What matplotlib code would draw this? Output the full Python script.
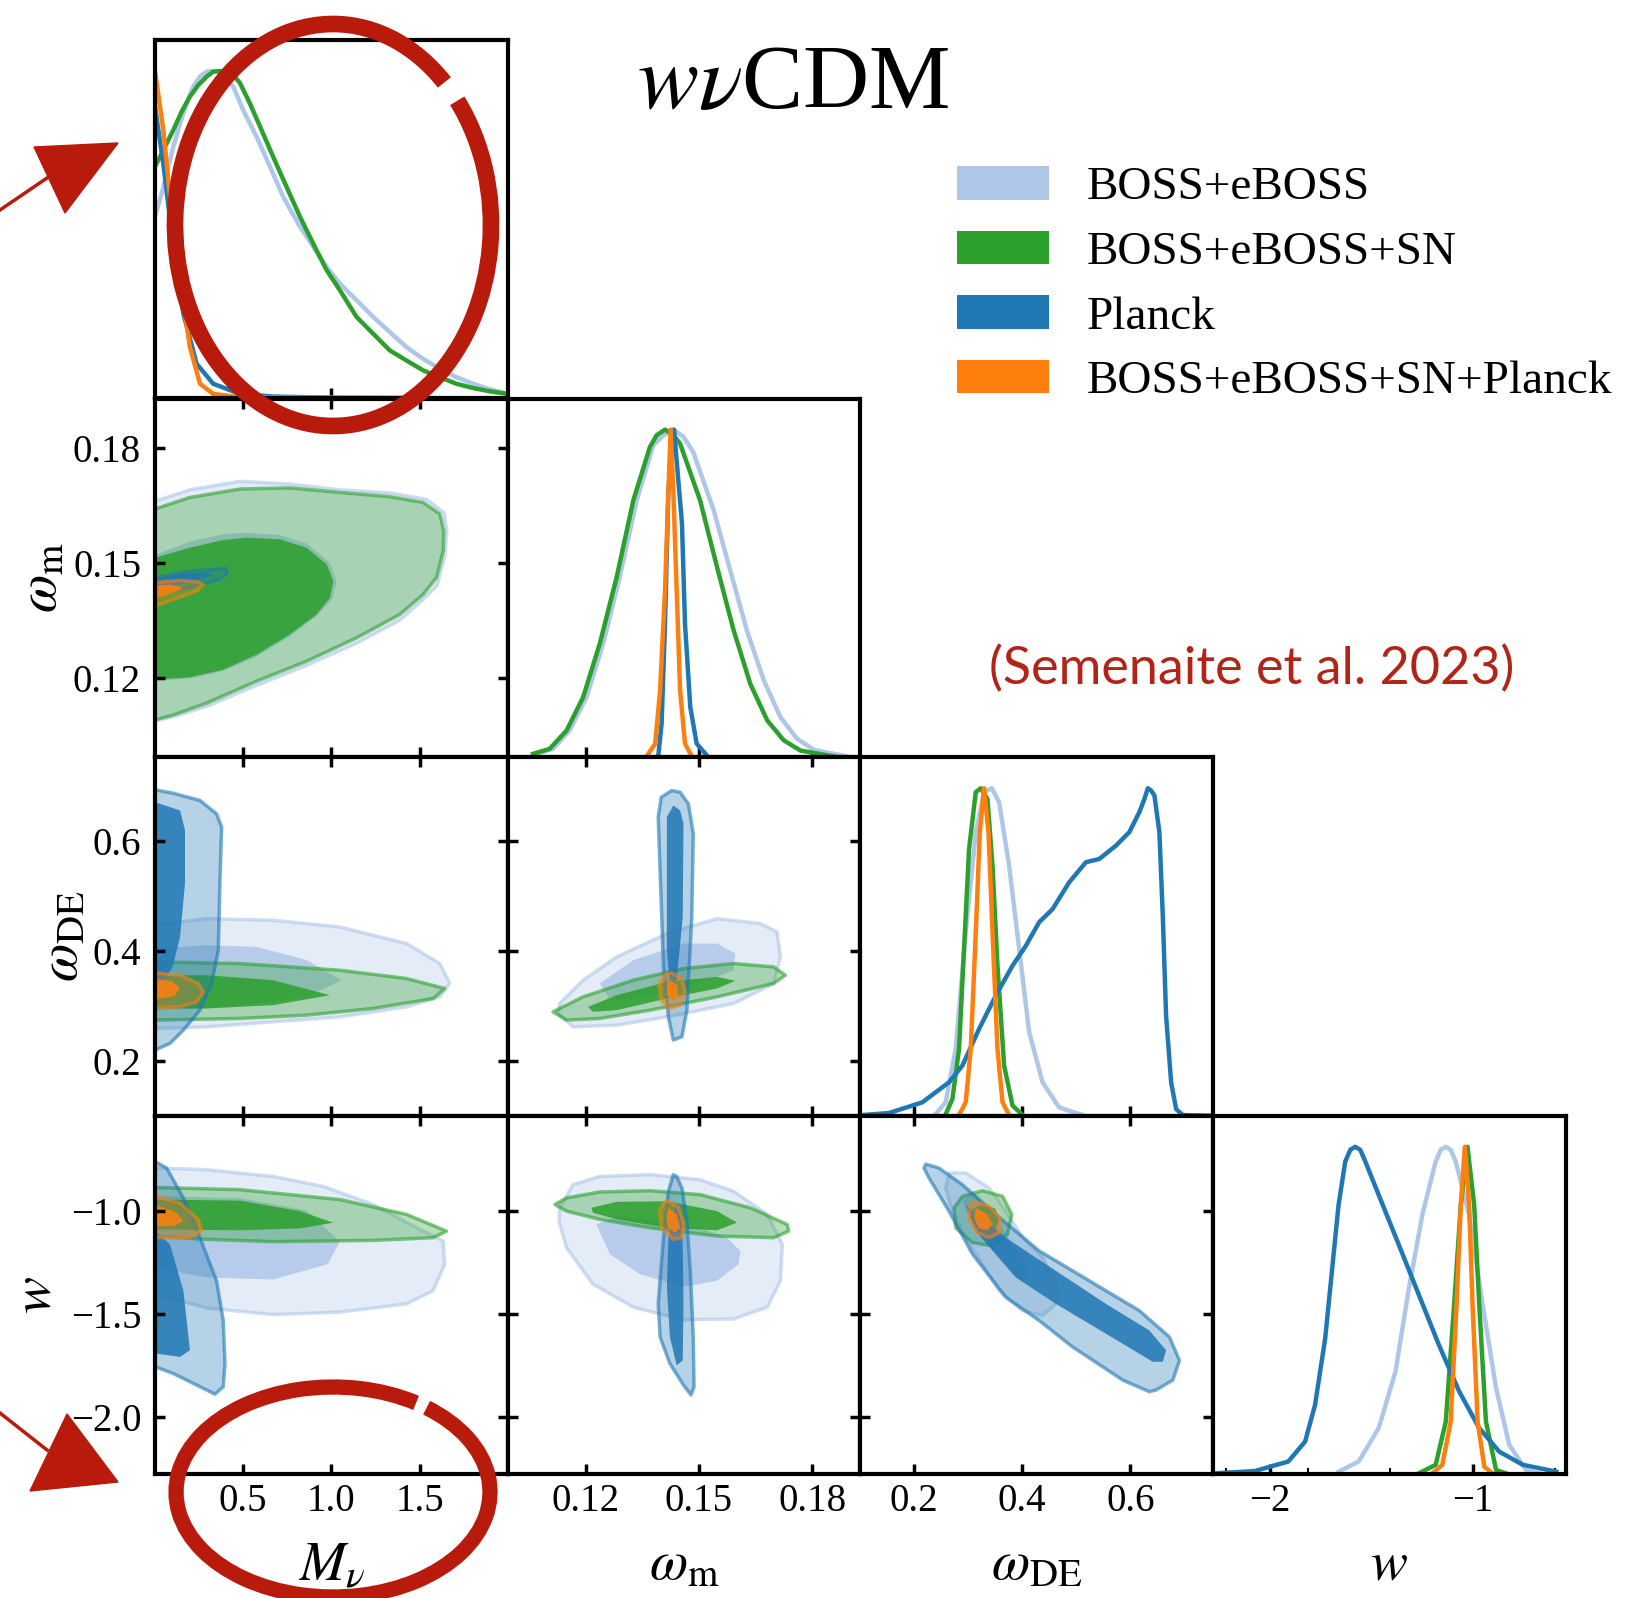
import numpy as np
import matplotlib
matplotlib.use("Agg")
import matplotlib.pyplot as plt
from matplotlib.patches import Polygon, Patch, Arc
from matplotlib.ticker import FixedLocator

plt.rcParams['font.family'] = ['Liberation Serif', 'DejaVu Serif']
plt.rcParams['mathtext.fontset'] = 'stix'

# ---------------- 1D marginals (peak normalised) ----------------
mnu_boss_x = [0.0, 0.038, 0.066, 0.104, 0.142, 0.179, 0.217, 0.255, 0.293, 0.321, 0.359, 0.406, 0.444, 0.500, 0.576, 0.652,
              0.727, 0.812, 0.897, 0.973, 1.048, 1.143, 1.237, 1.331, 1.426, 1.520, 1.615, 1.709, 1.804, 1.898, 2.0]
mnu_boss_p = [0.555, 0.626, 0.687, 0.769, 0.840, 0.901, 0.952, 0.983, 0.998, 1.0, 0.998, 0.973, 0.952, 0.881, 0.799, 0.708,
              0.616, 0.534, 0.463, 0.402, 0.351, 0.300, 0.249, 0.203, 0.157, 0.121, 0.091, 0.065, 0.045, 0.028, 0.014]
mnu_sn_x = [0.0, 0.057, 0.104, 0.151, 0.198, 0.245, 0.293, 0.330, 0.368, 0.406, 0.444, 0.482, 0.538, 0.604, 0.670, 0.746,
            0.822, 0.897, 0.973, 1.048, 1.143, 1.237, 1.331, 1.426, 1.520, 1.615, 1.709, 1.804, 1.898, 2.0]
mnu_sn_p = [0.708, 0.769, 0.820, 0.876, 0.922, 0.957, 0.983, 0.998, 1.0, 0.998, 0.988, 0.963, 0.901, 0.820, 0.738, 0.646,
            0.555, 0.473, 0.392, 0.331, 0.249, 0.198, 0.147, 0.116, 0.086, 0.065, 0.045, 0.032, 0.022, 0.014]
mnu_planck_x = [0.0, 0.047, 0.104, 0.161, 0.236, 0.330, 0.482, 0.670, 1.048, 2.0]
mnu_planck_p = [0.89, 0.718, 0.463, 0.259, 0.106, 0.045, 0.014, 0.006, 0.002, 0.0]
mnu_comb_x = [0.0, 0.047, 0.085, 0.142, 0.198, 0.255, 0.330, 0.482, 2.0]
mnu_comb_p = [1.0, 0.820, 0.616, 0.361, 0.157, 0.045, 0.014, 0.004, 0.0]

om_boss_x = [0.1069, 0.1113, 0.1157, 0.1202, 0.1246, 0.1290, 0.1335, 0.1379, 0.1406, 0.1432, 0.1459, 0.1485, 0.1539,
             0.1583, 0.1627, 0.1672, 0.1716, 0.1760, 0.1805, 0.1893]
om_boss_p = [0.010, 0.025, 0.081, 0.183, 0.346, 0.550, 0.784, 0.952, 0.983, 1.0, 0.978, 0.931, 0.754,
             0.570, 0.387, 0.234, 0.122, 0.056, 0.022, 0.002]
om_sn_x = [0.1060, 0.1104, 0.1149, 0.1193, 0.1237, 0.1282, 0.1326, 0.1370, 0.1388, 0.1410, 0.1432, 0.1450, 0.1503,
           0.1548, 0.1592, 0.1636, 0.1681, 0.1725, 0.1769, 0.1858]
om_sn_p = [0.010, 0.025, 0.081, 0.183, 0.346, 0.550, 0.784, 0.947, 0.983, 1.0, 0.983, 0.957, 0.784,
           0.580, 0.387, 0.224, 0.112, 0.051, 0.020, 0.002]
om_planck_x = [0.1392, 0.1401, 0.1410, 0.1419, 0.1434, 0.1455, 0.1463, 0.1477, 0.1494, 0.1521]
om_planck_p = [0.002, 0.102, 0.407, 0.815, 1.0, 0.713, 0.407, 0.153, 0.041, 0.005]
om_comb_x = [0.1361, 0.1384, 0.1397, 0.1410, 0.1419, 0.1425, 0.1432, 0.1441, 0.1450, 0.1463, 0.1481]
om_comb_p = [0.002, 0.041, 0.204, 0.509, 0.815, 1.0, 0.815, 0.509, 0.204, 0.041, 0.002]

ode_boss_x = [0.2402, 0.2587, 0.2772, 0.2957, 0.3143, 0.3296, 0.3439, 0.3574, 0.3759, 0.3945, 0.4130, 0.4378, 0.4685, 0.5118]
ode_boss_p = [0.005, 0.041, 0.204, 0.560, 0.865, 0.988, 1.0, 0.957, 0.764, 0.509, 0.255, 0.102, 0.025, 0.002]
ode_sn_x = [0.2587, 0.2711, 0.2833, 0.2926, 0.3019, 0.3143, 0.3235, 0.3359, 0.3452, 0.3544, 0.3667, 0.3822, 0.4008]
ode_sn_p = [0.005, 0.051, 0.204, 0.509, 0.815, 0.988, 1.0, 0.967, 0.764, 0.458, 0.153, 0.031, 0.002]
ode_planck_x = [0.1044, 0.1537, 0.2156, 0.2648, 0.2896, 0.3204, 0.3513, 0.3822, 0.4069, 0.4315, 0.4563, 0.4871,
                0.5179, 0.5426, 0.5736, 0.5982, 0.6167, 0.6260, 0.6323, 0.6383, 0.6445, 0.6537, 0.6600, 0.6661,
                0.6754, 0.6847, 0.6971, 0.7527]
ode_planck_p = [0.002, 0.008, 0.041, 0.102, 0.153, 0.265, 0.367, 0.458, 0.519, 0.591, 0.631, 0.713,
                0.774, 0.784, 0.825, 0.866, 0.927, 0.967, 1.0, 0.993, 0.978, 0.866, 0.611, 0.305,
                0.102, 0.020, 0.002, 0.0]
ode_comb_x = [0.2833, 0.2957, 0.3050, 0.3143, 0.3217, 0.3296, 0.3378, 0.3452, 0.3544, 0.3637, 0.3759]
ode_comb_p = [0.002, 0.041, 0.204, 0.560, 0.865, 1.0, 0.865, 0.560, 0.204, 0.041, 0.002]

w_boss_x = [-1.661, -1.562, -1.463, -1.380, -1.314, -1.248, -1.182, -1.157, -1.132, -1.108, -1.083, -1.017, -0.950,
            -0.884, -0.819, -0.736, -0.670]
w_boss_p = [0.008, 0.039, 0.141, 0.314, 0.568, 0.792, 0.955, 0.991, 1.0, 0.991, 0.955, 0.792, 0.517,
            0.263, 0.090, 0.013, 0.003]
w_sn_x = [-1.265, -1.182, -1.132, -1.091, -1.058, -1.025, -0.992, -0.967, -0.934, -0.884, -0.835]
w_sn_p = [0.003, 0.029, 0.161, 0.517, 0.823, 1.0, 0.823, 0.517, 0.161, 0.013, 0.003]
w_planck_x = [-2.273, -2.074, -1.909, -1.826, -1.777, -1.727, -1.694, -1.661, -1.628, -1.603, -1.579, -1.554, -1.529,
              -1.463, -1.364, -1.265, -1.166, -1.066, -0.967, -0.868, -0.752, -0.587]
w_planck_p = [0.003, 0.010, 0.039, 0.100, 0.212, 0.415, 0.619, 0.823, 0.955, 0.991, 1.0, 0.991, 0.955,
              0.853, 0.701, 0.548, 0.395, 0.253, 0.141, 0.069, 0.029, 0.008]
w_comb_x = [-1.198, -1.149, -1.108, -1.079, -1.058, -1.038, -1.017, -1.000, -0.975, -0.942, -0.901]
w_comb_p = [0.003, 0.029, 0.161, 0.517, 0.823, 1.0, 0.823, 0.517, 0.161, 0.023, 0.003]

# ---------------- 2D contours: 95% and 68% region outlines ----------------
# M_nu - omega_m
mnu_om_boss_95 = [(0, 0.1660), (0.198, 0.1690), (0.482, 0.1712), (0.765, 0.1705), (1.048, 0.1690), (1.331, 0.1682), (1.540, 0.1665),
                  (1.640, 0.1630), (1.655, 0.1583), (1.645, 0.1520), (1.600, 0.1440), (1.500, 0.1395), (1.388, 0.1350), (1.143, 0.1290),
                  (0.859, 0.1232), (0.576, 0.1180), (0.293, 0.1125), (0.104, 0.1098), (0, 0.1088)]
mnu_om_boss_68 = [(0, 0.1520), (0.198, 0.1555), (0.387, 0.1574), (0.519, 0.1578), (0.708, 0.1572), (0.859, 0.1550), (0.990, 0.1500),
                  (1.030, 0.1452), (1.005, 0.1405), (0.916, 0.1360), (0.765, 0.1308), (0.576, 0.1255), (0.387, 0.1217), (0.198, 0.1198), (0, 0.1192)]
mnu_om_sn_95 = [(0, 0.1640), (0.198, 0.1670), (0.482, 0.1692), (0.765, 0.1695), (1.048, 0.1683), (1.331, 0.1672), (1.520, 0.1657),
                (1.615, 0.1627), (1.637, 0.1583), (1.634, 0.1531), (1.596, 0.1461), (1.520, 0.1417), (1.388, 0.1365), (1.143, 0.1304),
                (0.859, 0.1243), (0.576, 0.1191), (0.293, 0.1134), (0.104, 0.1103), (0, 0.1090)]
mnu_om_sn_68 = [(0, 0.1513), (0.198, 0.1539), (0.387, 0.1559), (0.519, 0.1565), (0.708, 0.1561), (0.859, 0.1539), (0.973, 0.1496),
                (1.011, 0.1452), (0.992, 0.1408), (0.916, 0.1365), (0.765, 0.1313), (0.576, 0.1260), (0.387, 0.1221), (0.198, 0.1201), (0, 0.1195)]
mnu_om_planck_95 = [(0, 0.1461), (0.198, 0.1478), (0.406, 0.1485), (0.410, 0.1474), (0.368, 0.1457), (0.255, 0.1443), (0.104, 0.1426), (0, 0.1416)]
mnu_om_planck_68 = [(0, 0.1458), (0.15, 0.1470), (0.30, 0.1475), (0.32, 0.1467), (0.25, 0.1455), (0.10, 0.1440), (0, 0.1432)]
mnu_om_comb_95 = [(0, 0.1448), (0.142, 0.1454), (0.245, 0.1450), (0.274, 0.1442), (0.236, 0.1426), (0.123, 0.1407), (0, 0.1387)]
mnu_om_comb_68 = [(0, 0.1440), (0.08, 0.1443), (0.15, 0.1437), (0.14, 0.1428), (0.06, 0.1415), (0, 0.1408)]

# M_nu - omega_DE
mnu_ode_boss_95 = [(0, 0.4472), (0.293, 0.4593), (0.670, 0.4563), (1.048, 0.4441), (1.426, 0.4140), (1.615, 0.3777), (1.671, 0.3414),
                   (1.615, 0.3171), (1.426, 0.2989), (1.048, 0.2808), (0.670, 0.2717), (0.293, 0.2626), (0, 0.2597)]
mnu_ode_boss_68 = [(0, 0.405), (0.293, 0.411), (0.576, 0.408), (0.859, 0.384), (1.058, 0.347), (0.859, 0.317), (0.576, 0.305), (0.293, 0.296), (0, 0.293)]
mnu_ode_sn_95 = [(0, 0.3806), (0.482, 0.3777), (1.048, 0.3655), (1.426, 0.3504), (1.643, 0.3323), (1.577, 0.3141), (1.237, 0.296),
                 (0.859, 0.2838), (0.482, 0.2778), (0, 0.2748)]
mnu_ode_sn_68 = [(0, 0.3564), (0.293, 0.3564), (0.670, 0.3474), (0.992, 0.3201), (0.670, 0.302), (0.293, 0.296), (0, 0.296)]
mnu_ode_planck_95 = [(0, 0.6935), (0.104, 0.6873), (0.255, 0.6741), (0.349, 0.6499), (0.378, 0.6256), (0.368, 0.5229), (0.359, 0.4018),
                     (0.321, 0.3414), (0.255, 0.2929), (0.161, 0.2566), (0.085, 0.2325), (0, 0.2203)]
mnu_ode_planck_68 = [(0, 0.671), (0.142, 0.656), (0.170, 0.620), (0.170, 0.523), (0.142, 0.426), (0.100, 0.372), (0.050, 0.347), (0, 0.340)]
mnu_ode_comb_95 = [(0, 0.3606), (0.142, 0.3564), (0.245, 0.3414), (0.274, 0.3261), (0.236, 0.308), (0.142, 0.2989), (0, 0.2977)]
mnu_ode_comb_68 = [(0, 0.350), (0.10, 0.345), (0.14, 0.333), (0.11, 0.318), (0, 0.312)]

# M_nu - w
mnu_w_boss_95 = [(0, -0.794), (0.293, -0.802), (0.670, -0.835), (0.954, -0.883), (1.237, -0.971), (1.520, -1.100), (1.634, -1.148),
                 (1.643, -1.260), (1.577, -1.389), (1.426, -1.453), (1.048, -1.493), (0.670, -1.505), (0.293, -1.473), (0, -1.405)]
mnu_w_boss_68 = [(0, -0.93), (0.482, -0.94), (0.859, -1.0), (1.048, -1.15), (0.98, -1.26), (0.670, -1.335), (0.293, -1.325), (0, -1.276)]
mnu_w_sn_95 = [(0, -0.888), (0.482, -0.899), (1.048, -0.947), (1.426, -1.019), (1.653, -1.100), (1.577, -1.132), (1.237, -1.145),
               (0.670, -1.151), (0.293, -1.140), (0, -1.124)]
mnu_w_sn_68 = [(0, -0.947), (0.482, -0.952), (0.822, -1.003), (1.011, -1.059), (0.822, -1.087), (0.482, -1.096), (0, -1.092)]
mnu_w_planck_95 = [(0, -0.762), (0.066, -0.794), (0.161, -0.939), (0.255, -1.132), (0.349, -1.341), (0.387, -1.534), (0.397, -1.743),
                   (0.387, -1.855), (0.340, -1.891), (0.255, -1.855), (0.104, -1.791), (0, -1.758)]
mnu_w_planck_68 = [(0, -1.10), (0.085, -1.164), (0.161, -1.389), (0.198, -1.678), (0.142, -1.710), (0, -1.694)]
mnu_w_comb_95 = [(0, -0.930), (0.142, -0.965), (0.245, -1.043), (0.265, -1.100), (0.198, -1.130), (0.08, -1.135), (0, -1.130)]
mnu_w_comb_68 = [(0, -0.971), (0.123, -1.011), (0.161, -1.052), (0.104, -1.076), (0, -1.076)]

# omega_m - omega_DE
om_ode_boss_95 = [(0.1131, 0.3051), (0.1193, 0.3474), (0.1282, 0.3897), (0.1415, 0.4321), (0.1548, 0.4593), (0.1663, 0.4503),
                  (0.1707, 0.4350), (0.1716, 0.3897), (0.1698, 0.3414), (0.1592, 0.3051), (0.1415, 0.2808), (0.1282, 0.2657),
                  (0.1166, 0.2626), (0.1126, 0.2869)]
om_ode_boss_68 = [(0.1237, 0.3414), (0.1326, 0.3837), (0.1459, 0.4140), (0.1548, 0.4140), (0.1596, 0.3958), (0.1592, 0.3655),
                  (0.1503, 0.3414), (0.1370, 0.3171), (0.1264, 0.3111)]
om_ode_sn_95 = [(0.1113, 0.2898), (0.1193, 0.3171), (0.1326, 0.3474), (0.1459, 0.3686), (0.1592, 0.3777), (0.1698, 0.3715),
                (0.1729, 0.3564), (0.1698, 0.3414), (0.1548, 0.3171), (0.1370, 0.2929), (0.1237, 0.2778), (0.1149, 0.2748)]
om_ode_sn_68 = [(0.1206, 0.2989), (0.1282, 0.3201), (0.1415, 0.3443), (0.1548, 0.3534), (0.1596, 0.3462), (0.1548, 0.3323),
                (0.1415, 0.3141), (0.1282, 0.2929), (0.1219, 0.2898)]
om_ode_planck_95 = [(0.1428, 0.6922), (0.1450, 0.6891), (0.1472, 0.6681), (0.1485, 0.6136), (0.1481, 0.4623), (0.1468, 0.2929),
                    (0.1455, 0.2445), (0.1432, 0.2385), (0.1419, 0.2808), (0.1406, 0.3715), (0.1392, 0.6438), (0.1400, 0.6800)]
om_ode_planck_68 = [(0.1432, 0.665), (0.1450, 0.656), (0.1459, 0.632), (0.1457, 0.4623), (0.1441, 0.3474), (0.1423, 0.3414),
                    (0.1415, 0.4018), (0.1415, 0.6438)]
om_ode_comb_95 = [(0.1428, 0.3606), (0.1455, 0.3504), (0.1463, 0.3261), (0.1450, 0.302), (0.1423, 0.296), (0.1399, 0.3111),
                  (0.1395, 0.3414), (0.1410, 0.3583)]
om_ode_comb_68 = [(0.1423, 0.3474), (0.1443, 0.3383), (0.1446, 0.3171), (0.1428, 0.3098), (0.1415, 0.3201), (0.1415, 0.3414)]

# omega_m - w
om_w_boss_95 = [(0.1131, -0.987), (0.1166, -0.875), (0.1237, -0.835), (0.1370, -0.826), (0.1503, -0.851), (0.1592, -0.907),
                (0.1681, -1.019), (0.1721, -1.164), (0.1716, -1.341), (0.1681, -1.469), (0.1592, -1.526), (0.1459, -1.530),
                (0.1326, -1.469), (0.1219, -1.357), (0.1149, -1.180), (0.1129, -1.052)]
om_w_boss_68 = [(0.1228, -1.068), (0.1264, -1.212), (0.1344, -1.309), (0.1459, -1.370), (0.1548, -1.341), (0.1605, -1.260),
                (0.1610, -1.196), (0.1574, -1.132), (0.1503, -1.084), (0.1370, -1.040), (0.1280, -1.030)]
om_w_sn_95 = [(0.1118, -0.971), (0.1149, -0.939), (0.1237, -0.910), (0.1370, -0.904), (0.1503, -0.923), (0.1636, -0.987),
              (0.1734, -1.068), (0.1738, -1.100), (0.1698, -1.132), (0.1548, -1.124), (0.1370, -1.084), (0.1237, -1.043), (0.1149, -1.003)]
om_w_sn_68 = [(0.1215, -0.987), (0.1282, -0.958), (0.1415, -0.955), (0.1548, -1.003), (0.1601, -1.059), (0.1548, -1.096),
              (0.1415, -1.084), (0.1282, -1.043), (0.1219, -1.011)]
om_w_planck_95 = [(0.1432, -0.826), (0.1441, -0.835), (0.1455, -0.891), (0.1468, -1.052), (0.1477, -1.293), (0.1485, -1.614),
                  (0.1487, -1.855), (0.1479, -1.895), (0.1459, -1.847), (0.1423, -1.743), (0.1397, -1.614), (0.1392, -1.453),
                  (0.1406, -1.132), (0.1419, -0.907)]
om_w_planck_68 = [(0.1437, -0.971), (0.1450, -1.003), (0.1457, -1.164), (0.1459, -1.453), (0.1457, -1.727), (0.1441, -1.751),
                  (0.1423, -1.614), (0.1415, -1.373), (0.1419, -1.132)]
om_w_comb_95 = [(0.1419, -0.955), (0.1446, -0.987), (0.1461, -1.068), (0.1455, -1.132), (0.1432, -1.140), (0.1401, -1.084),
                (0.1395, -1.003), (0.1406, -0.963)]
om_w_comb_68 = [(0.1419, -0.987), (0.1441, -1.019), (0.1450, -1.084), (0.1437, -1.108), (0.1419, -1.084), (0.1413, -1.027)]

# omega_DE - w
ode_w_boss_95 = [(0.2648, -0.818), (0.2957, -0.818), (0.3389, -0.891), (0.3698, -1.003), (0.4008, -1.132), (0.4378, -1.228),
                 (0.4624, -1.357), (0.4624, -1.453), (0.4378, -1.510), (0.4008, -1.486), (0.3574, -1.389), (0.3267, -1.260),
                 (0.2957, -1.132), (0.2711, -1.003), (0.2587, -0.891)]
ode_w_boss_68 = [(0.3082, -0.907), (0.3389, -0.987), (0.3822, -1.164), (0.4130, -1.293), (0.4069, -1.349), (0.3822, -1.309),
                 (0.3452, -1.196), (0.3082, -1.068), (0.2896, -0.955)]
ode_w_sn_95 = [(0.3267, -0.904), (0.3637, -0.931), (0.3809, -1.019), (0.3730, -1.116), (0.3452, -1.172), (0.3082, -1.156),
               (0.2772, -1.084), (0.2741, -0.987), (0.2896, -0.931)]
ode_w_sn_68 = [(0.3267, -0.97), (0.350, -0.99), (0.357, -1.045), (0.350, -1.10), (0.335, -1.12), (0.318, -1.10), (0.307, -1.045), (0.310, -0.99)]
ode_w_planck_95 = [(0.2217, -0.775), (0.2463, -0.794), (0.2896, -0.875), (0.3513, -1.019), (0.4315, -1.196), (0.5241, -1.341),
                   (0.6167, -1.486), (0.6723, -1.614), (0.6908, -1.727), (0.6786, -1.823), (0.6476, -1.871), (0.6352, -1.879),
                   (0.5860, -1.823), (0.4933, -1.662), (0.4315, -1.534), (0.3698, -1.421), (0.3082, -1.212), (0.2648, -1.003),
                   (0.2278, -0.842), (0.2185, -0.794)]
ode_w_planck_68 = [(0.2957, -0.971), (0.3698, -1.132), (0.4624, -1.293), (0.555, -1.453), (0.6352, -1.582), (0.6661, -1.678),
                   (0.6600, -1.734), (0.6415, -1.734), (0.555, -1.598), (0.4624, -1.453), (0.3883, -1.325), (0.3513, -1.212), (0.3143, -1.100)]
ode_w_comb_95 = [(0.3111, -0.958), (0.3389, -0.979), (0.3606, -1.043), (0.3574, -1.108), (0.3389, -1.132), (0.3174, -1.108),
                 (0.3019, -1.043), (0.3019, -0.979)]
ode_w_comb_68 = [(0.3143, -0.987), (0.3359, -1.019), (0.3452, -1.068), (0.3359, -1.096), (0.3204, -1.087), (0.3111, -1.035)]

# ---------------- setup ----------------
params = ['mnu', 'om', 'ode', 'w']
labels = {'mnu': r'$M_\nu$', 'om': r'$\omega_{\rm m}$', 'ode': r'$\omega_{\rm DE}$', 'w': r'$w$'}
limits = {'mnu': (0.0, 2.0), 'om': (0.0993, 0.1928), 'ode': (0.101, 0.753), 'w': (-2.28, -0.54)}
xticks = {'mnu': ([0.5, 1.0, 1.5], ['0.5', '1.0', '1.5']),
          'om': ([0.12, 0.15, 0.18], ['0.12', '0.15', '0.18']),
          'ode': ([0.2, 0.4, 0.6], ['0.2', '0.4', '0.6']),
          'w': ([-2, -1], ['\u22122', '\u22121'])}
yticks = {'om': ([0.12, 0.15, 0.18], ['0.12', '0.15', '0.18']),
          'ode': ([0.2, 0.4, 0.6], ['0.2', '0.4', '0.6']),
          'w': ([-2.0, -1.5, -1.0], ['\u22122.0', '\u22121.5', '\u22121.0'])}
ylabel_x = {'om': -0.32, 'ode': -0.26, 'w': -0.335}

datasets = ['boss', 'sn', 'planck', 'comb']
names = ['BOSS+eBOSS', 'BOSS+eBOSS+SN', 'Planck', 'BOSS+eBOSS+SN+Planck']
colors = {'boss': '#aec7e8', 'sn': '#2ca02c', 'planck': '#1f77b4', 'comb': '#ff7f0e'}

g = globals()

fig = plt.figure(figsize=(16.46, 15.98), dpi=100)
W, H = 1646.0, 1598.0
x0, pw = 155 / W, 352.7 / W
y0, ph = 1 - 1474.3 / H, 358.6 / H

for i, py in enumerate(params):
    for j, px in enumerate(params[:i + 1]):
        ax = fig.add_axes([x0 + j * pw, y0 + (3 - i) * ph, pw, ph])
        ax.set_xlim(limits[px])
        for s in ax.spines.values():
            s.set_linewidth(3)
        tk, tl = xticks[px]
        ax.set_xticks(tk)
        if i == 3:
            ax.set_xticklabels(tl)
            ax.set_xlabel(labels[px], fontsize=40, va='center')
            ax.xaxis.set_label_coords(0.5, -0.255)
        else:
            ax.set_xticklabels([])
        if i == j:
            ax.set_ylim(0, 1.095)
            ax.set_yticks([])
            ax.tick_params(axis='x', direction='in', length=7, width=2.5, top=False,
                           labelsize=28, pad=6)
            for d in datasets:
                ax.plot(g[f'{px}_{d}_x'], g[f'{px}_{d}_p'], color=colors[d], lw=3.2,
                        solid_joinstyle='round')
            if px == 'w':
                ax.xaxis.set_minor_locator(FixedLocator([-2.215, -1.81, -1.405, -0.595]))
                ax.tick_params(axis='x', which='minor', direction='in', length=4, width=1.5, top=False)
        else:
            ax.set_ylim(limits[py])
            yk, yl = yticks[py]
            ax.set_yticks(yk)
            if j == 0:
                ax.set_yticklabels(yl)
                ax.set_ylabel(labels[py], fontsize=40, rotation=90, va='center', ha='center')
                ax.yaxis.set_label_coords(ylabel_x[py], 0.5)
            else:
                ax.set_yticklabels([])
            ax.tick_params(direction='in', length=7, width=2.5, top=True, right=True,
                           labelsize=28, pad=6)
            ax.tick_params(axis='y', pad=10)
            for d in datasets:
                c = colors[d]
                outer = g[f'{px}_{py}_{d}_95']
                inner = g[f'{px}_{py}_{d}_68']
                ax.add_patch(Polygon(outer, closed=True, facecolor=c, alpha=0.33, edgecolor='none'))
                ax.add_patch(Polygon(inner, closed=True, facecolor=c, alpha=0.85, edgecolor='none'))
                ax.add_patch(Polygon(outer, closed=True, fill=False, edgecolor=c, alpha=0.6, lw=2.5,
                                     joinstyle='round'))

# title, legend, citation
fig.text(793 / W, 1 - 86 / H, r'$w\nu$CDM', ha='center', va='center', fontsize=66)
handles = [Patch(facecolor=colors[d], edgecolor='none') for d in datasets]
fig.legend(handles, names, loc='upper left', bbox_to_anchor=(957 / W, 1 - 166 / H), frameon=False,
           fontsize=34, handlelength=1.95, handleheight=0.72, handletextpad=0.8, labelspacing=0.45,
           borderpad=0, borderaxespad=0)
fig.text(1252 / W, 1 - 669 / H, '(Semenaite et al. 2023)', color='#b22418', ha='center', va='center',
         fontsize=37.5, family='Lato')

# red hand-drawn highlight marks
red = '#b81a0c'
ov = fig.add_axes([0, 0, 1, 1], zorder=10)
ov.set_xlim(0, W)
ov.set_ylim(0, H)
ov.axis('off')
ov.patch.set_alpha(0)
ov.add_patch(Arc((333, H - 225), 316, 402, theta1=52, theta2=405, lw=12, color=red))
ov.add_patch(Arc((333, H - 1492), 314, 210, theta1=47, theta2=402, lw=11, color=red))
ov.add_patch(Polygon([(34, H - 147), (118, H - 143), (65, H - 213)], closed=True, color=red))
ov.plot([0, 47], [H - 210, H - 178], color=red, lw=2.5)
ov.add_patch(Polygon([(67, H - 1414), (30, H - 1491), (118, H - 1482)], closed=True, color=red))
ov.plot([0, 47], [H - 1413, H - 1450], color=red, lw=2.5)

fig.savefig('out.png', dpi=100)
